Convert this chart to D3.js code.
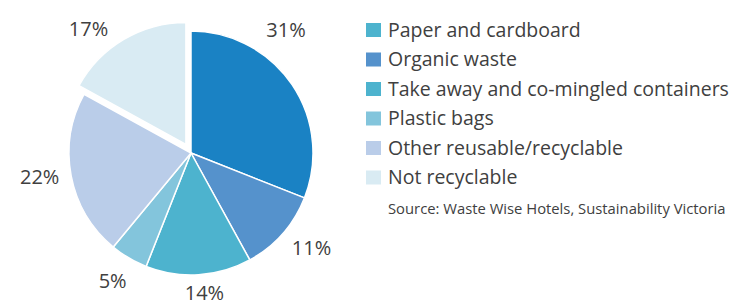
<!DOCTYPE html>
<html>
<head>
<meta charset="utf-8">
<script src="https://cdn.jsdelivr.net/npm/d3@7"></script>
<style>
  body { margin: 0; background: #fff; }
  text { font-family: "Open Sans", "Noto Sans", sans-serif; fill: #404040; }
</style>
</head>
<body>
<svg id="chart" width="733" height="301"></svg>
<script>
// data
var categories = ["Paper and cardboard", "Organic waste", "Take away and co-mingled containers",
    "Plastic bags", "Other reusable/recyclable", "Not recyclable"]
var shares = [31, 11, 14, 5, 22, 17]
var sliceColors = ["#1a82c4", "#5592cc", "#4db3ce", "#83c5dc", "#bacde9", "#d9ebf3"]
var legendColors = ["#4db3ce", "#5592cc", "#4db3ce", "#83c5dc", "#bacde9", "#d9ebf3"]
var sourceNote = "Source: Waste Wise Hotels, Sustainability Victoria"

var cx = 191, cy = 153, radius = 122
var explodeIndex = 5, explodeDist = 10
// hand tweaks so labels sit where the original put them
var labelNudge = [[-29, -39], [8, -4], [4, -10], [-2, -1], [-4, -4], [-21, 14]]

var svg = d3.select("#chart")

var pie = d3.pie().sort(null).value(function (d) { return d })
var arcs = pie(shares)

var arc = d3.arc().innerRadius(0).outerRadius(radius)
var labelArc = d3.arc().innerRadius(150).outerRadius(150)

function offsetOf(d, i) {
    if (i != explodeIndex) return [0, 0]
    var mid = (d.startAngle + d.endAngle) / 2
    return [Math.sin(mid) * explodeDist, -Math.cos(mid) * explodeDist]
}

var g = svg.append("g")
    .attr("transform", "translate(" + cx + "," + cy + ")")

g.selectAll(".slice")
    .data(arcs)
    .enter().append("path")
    .attr("class", "slice")
    .attr("transform", function (d, i) {
        var o = offsetOf(d, i)
        return "translate(" + o[0] + "," + o[1] + ")"
    })
    .attr("d", arc)
    .attr("fill", function (d, i) { return sliceColors[i] })
    .attr("stroke", "#fff")
    .attr("stroke-width", 1.5)
    .attr("stroke-linejoin", "round")

g.selectAll(".pct")
    .data(arcs)
    .enter().append("text")
    .attr("class", "pct")
    .attr("x", function (d, i) { return labelArc.centroid(d)[0] + offsetOf(d, i)[0] + labelNudge[i][0] })
    .attr("y", function (d, i) { return labelArc.centroid(d)[1] + offsetOf(d, i)[1] + labelNudge[i][1] })
    .attr("dy", "0.35em")
    .attr("text-anchor", "middle")
    .style("font-size", "20px")
    .text(function (d) { return d.data + "%" })

// legend
var legend = svg.append("g").attr("transform", "translate(366,22)")
var rowH = 29.5

var rows = legend.selectAll(".row")
    .data(categories)
    .enter().append("g")
    .attr("class", "row")
    .attr("transform", function (d, i) { return "translate(0," + (i * rowH) + ")" })

rows.append("rect")
    .attr("width", 15)
    .attr("height", 14)
    .attr("y", 1)
    .attr("fill", function (d, i) { return legendColors[i] })

rows.append("text")
    .attr("x", 22)
    .attr("y", 8)
    .attr("dy", "0.35em")
    .style("font-size", "19.5px")
    .text(function (d) { return d })

legend.append("text")
    .attr("x", 22)
    .attr("y", 6 * rowH + 10)
    .attr("dy", "0.35em")
    .style("font-size", "14.8px")
    .text(sourceNote)
</script>
</body>
</html>
